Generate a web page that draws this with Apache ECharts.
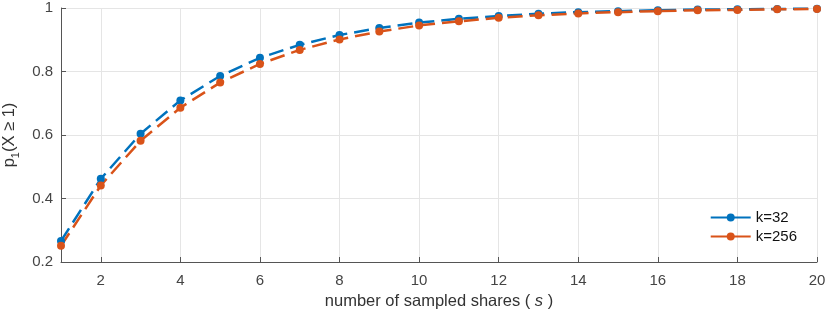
<!DOCTYPE html>
<html><head><meta charset="utf-8">
<script src="https://cdn.jsdelivr.net/npm/echarts@6/dist/echarts.min.js"></script>
<style>html,body{margin:0;padding:0;background:#fff}#c{width:830px;height:309px}</style>
</head><body><div id="c"></div>
<script>
const sValues = [1,2,3,4,5,6,7,8,9,10,11,12,13,14,15,16,17,18,19,20];
const k32 = [0.266,0.462,0.604,0.709,0.786,0.843,0.884,0.915,0.937,0.954,0.966,0.975,0.982,0.987,0.990,0.993,0.995,0.996,0.997,0.998];
const k256 = [0.251,0.441,0.582,0.686,0.765,0.824,0.868,0.901,0.926,0.945,0.958,0.969,0.977,0.983,0.987,0.990,0.993,0.994,0.996,0.997];
const xTicks = [2,4,6,8,10,12,14,16,18,20];
const seriesNames = ['k=32','k=256'];

const font = 'Liberation Sans, Arial, Helvetica, sans-serif';
const chart = echarts.init(document.getElementById('c'));
function mk(name, vals, color){
  return {
    name, type:'line', data: sValues.map((s,i)=>[s, vals[i]]),
    symbol:'circle', symbolSize:8, showSymbol:true,
    lineStyle:{color, width:2.5, type:[15,7]},
    itemStyle:{color},
    animation:false
  };
}
chart.setOption({
  animation:false,
  grid:{left:61,right:13,top:8,bottom:47,containLabel:false,outerBoundsMode:'none'},
  xAxis:{type:'value',min:1,max:20,
    name:'number of sampled shares ( {i|s} )',nameLocation:'middle',nameGap:31,
    nameTextStyle:{fontFamily:font,fontSize:16.5,color:'#333',rich:{i:{fontStyle:'italic',fontFamily:font,fontSize:16.5,color:'#333'}}},
    axisLine:{lineStyle:{color:'#555',width:1}},
    axisTick:{inside:true,length:5,customValues:xTicks,lineStyle:{color:'#555'}},
    axisLabel:{customValues:xTicks,fontFamily:font,fontSize:15,color:'#444',margin:11},
    splitLine:{show:true,lineStyle:{color:'#e5e5e5',width:1}}
  },
  yAxis:{type:'value',min:0.2,max:1,interval:0.2,
    name:'p{sub|1}(X ≥ 1)',nameLocation:'middle',nameGap:32,nameRotate:90,
    nameTextStyle:{fontFamily:font,fontSize:16.5,color:'#333',rich:{sub:{fontSize:11,fontFamily:font,color:'#333',verticalAlign:'bottom',padding:[12,0,0,0]}}},
    axisLine:{show:true,lineStyle:{color:'#555',width:1}},
    axisTick:{show:true,inside:true,length:5,lineStyle:{color:'#555'}},
    axisLabel:{fontFamily:font,fontSize:15,color:'#444',margin:8,formatter:v=>String(+v.toFixed(1))},
    splitLine:{show:true,lineStyle:{color:'#e5e5e5',width:1}}
  },
  legend:{right:28,bottom:60,orient:'vertical',itemWidth:40,itemHeight:10,itemGap:4,
    lineStyle:{type:'solid'},
    textStyle:{fontFamily:font,fontSize:15,color:'#111'},
    data:seriesNames},
  series:[mk(seriesNames[0],k32,'#0072BD'),mk(seriesNames[1],k256,'#D95319')]
});
</script></body></html>
